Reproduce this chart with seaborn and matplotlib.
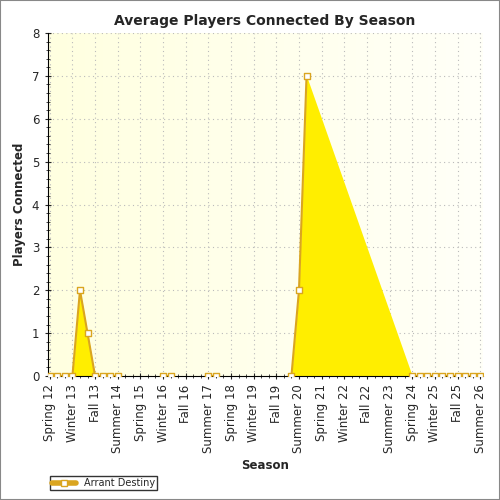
import numpy as np
import matplotlib
matplotlib.use("Agg")
import matplotlib.pyplot as plt
import seaborn as sns

seasons = ["Spring", "Summer", "Fall", "Winter"]
categories = []
for i in range(58):
    s = seasons[i % 4]
    yr = 12 + (i + 1) // 4 if s == "Winter" else 12 + i // 4
    categories.append(f"{s} {yr}")
# values (NaN = no data)
values = [np.nan] * 58
known = {0: 0, 1: 0, 2: 0, 3: 0, 4: 2, 5: 1, 6: 0, 7: 0, 8: 0, 9: 0,
         15: 0, 16: 0, 21: 0, 22: 0, 32: 0, 33: 2, 34: 7,
         48: 0, 49: 0, 50: 0, 51: 0, 52: 0, 53: 0, 54: 0, 55: 0, 56: 0, 57: 0}
for k, v in known.items():
    values[k] = v
series_name = "Arrant Destiny"

sns.set_style("white")
fig = plt.figure(figsize=(5, 5), dpi=100)
ax = fig.add_axes([0.095, 0.248, 0.87, 0.686])
x = np.arange(58)
y = np.array(values, dtype=float)
m = ~np.isnan(y)
ax.imshow(np.linspace(0, 1, 256).reshape(1, -1), extent=[-0.3, 57.3, 0, 8], aspect="auto",
          cmap=matplotlib.colors.LinearSegmentedColormap.from_list("bg", ["#FFFFE0", "#FFFFF8"]), zorder=0)
ax.fill_between(x[m], 0, y[m], color="#FFEE00", zorder=2, lw=0)
ax.plot(x, y, color="#DAA520", lw=1.5, zorder=3)
sns.scatterplot(x=x[m], y=y[m], ax=ax, marker="s", s=22, color="white", edgecolor="#DAA520",
                linewidth=1, zorder=4, legend=False)
ax.set_xlim(-0.3, 57.3)
ax.set_ylim(0, 8)
ax.set_xticks(x[::3])
ax.set_xticklabels(categories[::3], rotation=90, fontsize=8.5)
ax.set_xticks(x, minor=True)
ax.set_yticks(range(9))
ax.set_yticks(np.arange(0, 8.01, 0.2), minor=True)
ax.tick_params(axis="both", which="major", length=5, direction="inout", labelsize=8.5)
ax.tick_params(axis="both", which="minor", length=3, direction="inout")
ax.tick_params(bottom=True, left=True, which="both")
ax.grid(True, which="major", color="#BBBBBB", linestyle=(0, (1, 3)), lw=0.8, zorder=1)
for sp in ["top", "right"]:
    ax.spines[sp].set_visible(False)
for sp in ["left", "bottom"]:
    ax.spines[sp].set_color("black")
ax.set_title("Average Players Connected By Season", fontsize=10, fontweight="bold")
ax.set_xlabel("Season", fontsize=8.5, fontweight="bold")
ax.set_ylabel("Players Connected", fontsize=8.5, fontweight="bold")
from matplotlib.lines import Line2D
h = Line2D([0], [0], color="#DAA520", lw=4, marker="s", markerfacecolor="white",
           markeredgecolor="#DAA520", markersize=5)
fig.legend([h], [series_name], loc="lower left", bbox_to_anchor=(0.09, 0.01), fontsize=7,
           frameon=True, fancybox=False, edgecolor="black", borderpad=0.2, handlelength=2.5)
fig.patches.append(plt.Rectangle((0, 0), 1, 1, transform=fig.transFigure, fill=False,
                                 edgecolor="#888888", lw=1.5))
fig.savefig("out.png", dpi=100)
